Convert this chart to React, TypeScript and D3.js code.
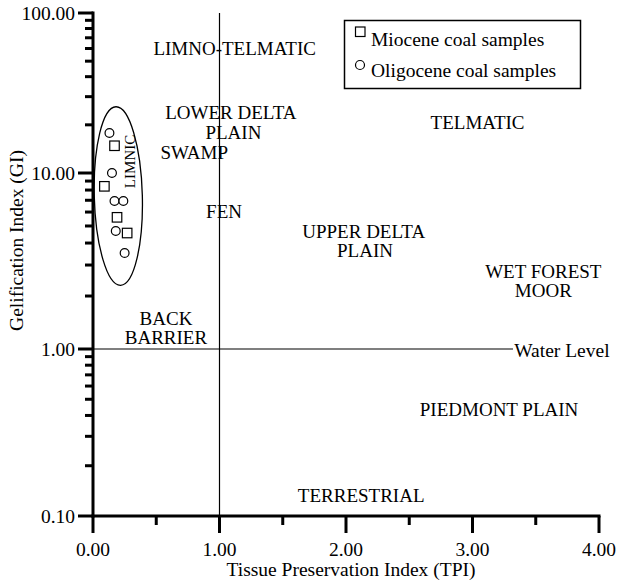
import React from "react";
import * as d3 from "d3";

// ---- data ----
const mioceneTPI = [0.17, 0.09, 0.19, 0.27];
const mioceneGI = [14.8, 8.4, 5.6, 4.56];
const oligoceneTPI = [0.13, 0.15, 0.17, 0.24, 0.18, 0.25];
const oligoceneGI = [17.8, 10.0, 6.93, 6.93, 4.68, 3.51];

const xMajorTicks = [0, 1, 2, 3, 4];
const xMinorTicks = [0.5, 1.5, 2.5, 3.5];
const yMajorTicks = [0.1, 1, 10, 100];
const yDecades = [0.1, 1, 10];
const yMinorMultipliers = [2, 3, 4, 5, 6, 7, 8, 9];

const regionLabels = ["LIMNO-TELMATIC", "LOWER DELTA", "PLAIN", "SWAMP", "TELMATIC", "FEN", "UPPER DELTA", "PLAIN", "WET FOREST", "MOOR", "BACK", "BARRIER", "PIEDMONT PLAIN", "TERRESTRIAL"];
const regionTPI = [1.12, 1.09, 1.11, 0.8, 3.04, 1.036, 2.14, 2.15, 3.56, 3.56, 0.577, 0.577, 3.21, 2.12];
const regionGI = [54.6, 21.8, 16.3, 12.3, 18.8, 5.55, 4.27, 3.33, 2.53, 1.97, 1.37, 1.07, 0.397, 0.121];

const legendLabels = ["Miocene coal samples", "Oligocene coal samples"];
const xTitle = "Tissue Preservation Index (TPI)";
const yTitle = "Gelification Index (GI)";

const FONT = "'Liberation Serif', 'Times New Roman', serif";

export default function App() {
  const W = 617, H = 583;
  const x = d3.scaleLinear().domain([0, 4]).range([93, 599]);
  const y = d3.scaleLog().domain([0.1, 1, 10, 100]).range([516, 349, 173, 13]);
  const fmt = d3.format(".2f");
  const x0 = x(0), yb = y(0.1), yt = y(100);
  const yMinor = yDecades.flatMap((d) => yMinorMultipliers.map((m) => d * m));

  // ellipse around samples (data extents)
  const ecx = x(0.2), ecy = y(7.4);
  const erx = x(0.39) - x(0.2);
  const ery = (y(2.28) - y(25.7)) / 2;

  return (
    <svg width={W} height={H} style={{ position: "absolute", left: 0, top: 0, background: "#fff" }} fontFamily={FONT}>
      <rect x={0} y={0} width={W} height={H} fill="#fff" />
      {/* reference lines */}
      <line x1={x(1)} x2={x(1)} y1={yt} y2={yb} stroke="#000" strokeWidth={1.2} />
      <line x1={x0} x2={x(3.32)} y1={y(1)} y2={y(1)} stroke="#000" strokeWidth={1.2} />
      <text x={x(3.33)} y={y(1) + 8} fontSize={19.5} fill="#000">Water Level</text>

      {/* region labels */}
      {regionLabels.map((t, i) => (
        <text key={i} x={x(regionTPI[i])} y={y(regionGI[i])} fontSize={19} textAnchor="middle" fill="#000">{t}</text>
      ))}

      {/* ellipse + LIMNIC */}
      <ellipse cx={ecx} cy={ecy} rx={erx} ry={ery} fill="none" stroke="#000" strokeWidth={1.3}
        transform={`rotate(-1.5 ${ecx} ${ecy})`} />
      <text transform={`translate(${x(0.33)},${y(11.8)}) rotate(-90)`} fontSize={15} textAnchor="middle" fill="#000">LIMNIC</text>

      {/* points */}
      {mioceneTPI.map((v, i) => (
        <rect key={"m" + i} x={x(v) - 4.75} y={y(mioceneGI[i]) - 4.75} width={9.5} height={9.5} fill="#fff" stroke="#000" strokeWidth={1.2} />
      ))}
      {oligoceneTPI.map((v, i) => (
        <circle key={"o" + i} cx={x(v)} cy={y(oligoceneGI[i])} r={4.4} fill="#fff" stroke="#000" strokeWidth={1.2} />
      ))}

      {/* axes */}
      <line x1={x0} x2={x0} y1={yt - 1.5} y2={yb + 1.5} stroke="#000" strokeWidth={3} />
      <line x1={x0 - 1.5} x2={x(4) + 1.5} y1={yb} y2={yb} stroke="#000" strokeWidth={3} />
      {yMajorTicks.map((t) => (
        <g key={"ym" + t}>
          <line x1={x0 - 15} x2={x0} y1={y(t)} y2={y(t)} stroke="#000" strokeWidth={3} />
          <text x={x0 - 18} y={y(t)} dy="0.35em" fontSize={19.5} textAnchor="end" fill="#000">{fmt(t)}</text>
        </g>
      ))}
      {yMinor.map((t) => (
        <line key={"yn" + t} x1={x0 - 8} x2={x0} y1={y(t)} y2={y(t)} stroke="#000" strokeWidth={3} />
      ))}
      {xMajorTicks.map((t) => (
        <g key={"xm" + t}>
          <line x1={x(t)} x2={x(t)} y1={yb} y2={yb + 17} stroke="#000" strokeWidth={3} />
          <text x={x(t)} y={556} fontSize={19.5} textAnchor="middle" fill="#000">{fmt(t)}</text>
        </g>
      ))}
      {xMinorTicks.map((t) => (
        <line key={"xn" + t} x1={x(t)} x2={x(t)} y1={yb} y2={yb + 9} stroke="#000" strokeWidth={3} />
      ))}
      <text x={(x(0) + x(4)) / 2 + 5} y={576} fontSize={19.5} textAnchor="middle" fill="#000">{xTitle}</text>
      <text transform={`translate(23,${(yt + yb) / 2 - 24}) rotate(-90)`} fontSize={19.5} textAnchor="middle" fill="#000">{yTitle}</text>

      {/* legend */}
      <rect x={344.5} y={20.5} width={236} height={68} fill="#fff" stroke="#000" strokeWidth={1.5} />
      <rect x={355.5} y={27} width={9.5} height={9.5} fill="#fff" stroke="#000" strokeWidth={1.2} />
      <text x={371} y={46} fontSize={19.5} fill="#000">{legendLabels[0]}</text>
      <circle cx={360} cy={65} r={4.5} fill="#fff" stroke="#000" strokeWidth={1.2} />
      <text x={371} y={77} fontSize={19.5} fill="#000">{legendLabels[1]}</text>
    </svg>
  );
}
